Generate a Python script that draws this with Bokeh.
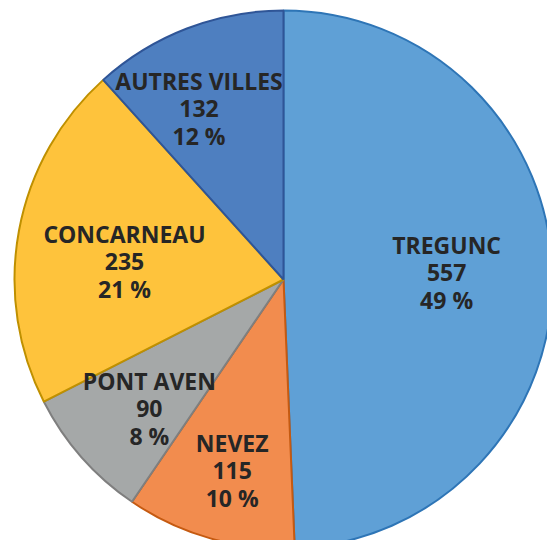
import math
from bokeh.plotting import figure
from bokeh.models import Range1d, ColumnDataSource
from bokeh.core.properties import value
from bokeh.embed import file_html
from bokeh.resources import INLINE

# ---- data ----
cities = ["TREGUNC", "NEVEZ", "PONT AVEN", "CONCARNEAU", "AUTRES VILLES"]
counts = [557, 115, 90, 235, 132]

# ---- style / layout ----
fills = ["#5FA0D6", "#F28C4E", "#A5A8A8", "#FEC33C", "#4E7FC0"]
edges = ["#2E75B6", "#C55A11", "#7F7F7F", "#BF9000", "#2F5597"]
label_radius = [0.607, 0.735, 0.693, 0.595, 0.71]
label_angle_shift = [-1.4, -0.9, -2.6, -3.9, -5.2]  # degrees

W, H = 547, 540
cx, cy, R = 283, 261, 269
line_gap = 27.5

total = sum(counts)
fracs = [c / total for c in counts]
cum = [0.0]
for f in fracs:
    cum.append(cum[-1] + f)

start = [math.pi / 2 - 2 * math.pi * cum[i] for i in range(len(counts))]
end = [math.pi / 2 - 2 * math.pi * cum[i + 1] for i in range(len(counts))]

src = ColumnDataSource(dict(x=[cx] * len(counts), y=[cy] * len(counts),
                            start=start, end=end, fill=fills, edge=edges))

p = figure(width=W, height=H, x_range=Range1d(0, W), y_range=Range1d(0, H),
           x_axis_type=None, y_axis_type=None, toolbar_location=None,
           output_backend="svg", min_border=0)
p.grid.visible = False
p.outline_line_color = None
p.background_fill_color = "white"

p.wedge(x="x", y="y", radius=R, start_angle="start", end_angle="end",
        direction="clock", fill_color="fill", line_color="edge",
        line_width=2, source=src)

lx, ly = [], []
l1, l2, l3 = [], [], []
for i, c in enumerate(counts):
    mid = (cum[i] + cum[i + 1]) / 2 * 360 + label_angle_shift[i]
    th = math.radians(mid)
    lx.append(cx + label_radius[i] * R * math.sin(th))
    ly.append(cy + label_radius[i] * R * math.cos(th))
    l1.append(cities[i])
    l2.append(str(c))
    l3.append(f"{round(fracs[i] * 100)} %")

for txt, off in ((l1, -line_gap), (l2, 0), (l3, line_gap)):
    p.text(x=lx, y=ly, text=txt, y_offset=off, text_align="center",
           text_baseline="middle", text_font=value("Open Sans"),
           text_font_style="bold", text_font_size="23px", text_color="#262626")

open("out.html", "w").write(file_html(p, INLINE))
